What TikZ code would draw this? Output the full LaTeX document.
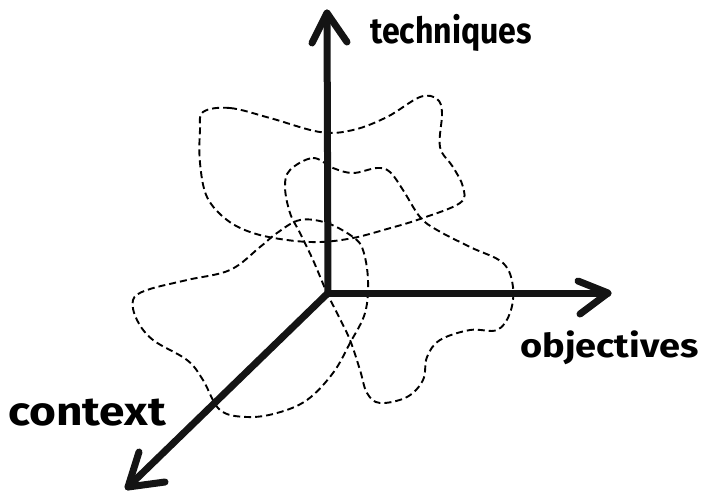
\documentclass[tikz,border=0pt]{standalone}
\usepackage{fontspec}
\setmainfont{Fira Sans}
\begin{document}
\begin{tikzpicture}[x=1pt,y=-1pt,
  axis/.style={line width=7pt,line cap=round,line join=round,black!92},
  blob/.style={line width=1.9pt,dash pattern=on 7pt off 4pt},
  lbl/.style={font=\bfseries\fontsize{36}{38}\selectfont,inner sep=0pt,anchor=base west}]
\useasboundingbox (0,0) rectangle (704,491);
\coordinate (O) at (328,293);
\coordinate (T) at (327,13);
\coordinate (R) at (608,293);
\coordinate (D) at (128,487);
% blobs
\draw[blob] plot[smooth cycle,tension=0.6] coordinates {
 (203,112) (230,108) (270,118) (320,132) (353,130) (387,117) (420,97) (437,99) (442,113)
 (440,147) (453,167) (463,187) (460,203) (420,219) (387,229) (353,238) (320,242)
 (287,240) (253,233) (227,220) (207,197) (200,163) (200,130)};
\draw[blob] plot[smooth cycle,tension=0.6] coordinates {
 (290,170) (313,158) (333,168) (353,173) (377,168) (390,172) (403,190) (420,217)
 (437,230) (470,247) (503,263) (513,287) (510,313) (497,330) (470,330) (440,340)
 (427,357) (423,380) (407,397) (380,403) (367,393) (360,370) (350,340) (337,313)
 (327,293) (313,260) (300,233) (290,213) (285,187)};
\draw[blob] plot[smooth cycle,tension=0.6] coordinates {
 (300,220) (327,223) (353,237) (363,250) (368,280) (365,313) (350,343) (333,373)
 (307,400) (277,413) (247,417) (220,410) (203,380) (187,360) (153,340) (137,320)
 (133,300) (147,290) (187,280) (230,270) (260,247) (277,233)};
% axes
\draw[axis] (O) -- (T);
\draw[axis] (T) ++(-15,30) -- (T) -- ++(20,29);
\draw[axis] (O) -- (R);
\draw[axis] (R) ++(-30,-12) -- (R) -- ++(-28,21);
\draw[axis] (O) -- (D);
\draw[axis] (D) ++(11,-35) -- (D) -- ++(37,-5);
% labels
\node[lbl,xscale=0.89] (tech) at (370,43) {techniques};
\node[lbl,font=\bfseries\fontsize{33}{35}\selectfont,xscale=1.15] (obj) at (520,357) {objectives};
\node[lbl,font=\bfseries\fontsize{40}{42}\selectfont,xscale=1.15] (ctx) at (8,425) {context};
\end{tikzpicture}
\end{document}
